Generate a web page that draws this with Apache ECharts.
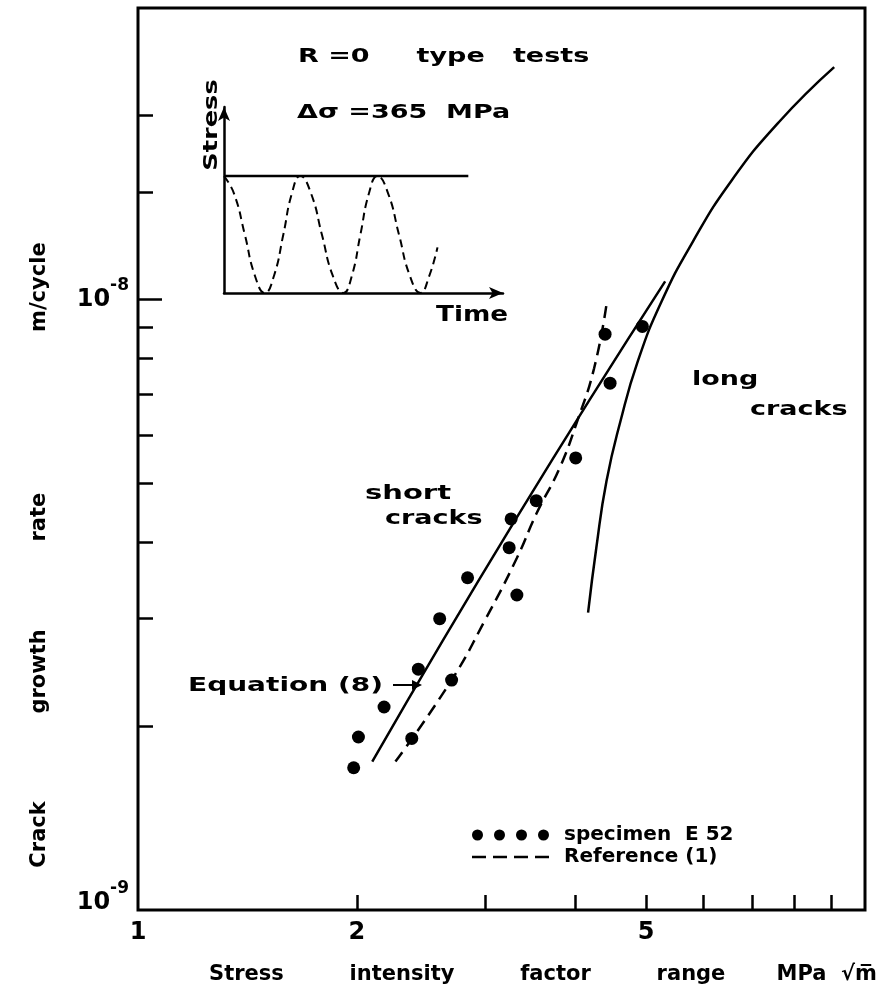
<!DOCTYPE html>
<html>
<head>
<meta charset="utf-8">
<title>Crack growth rate vs stress intensity factor range</title>
<script src="https://cdn.jsdelivr.net/npm/echarts@6.0.0/dist/echarts.min.js"></script>
<style>
    html, body { margin: 0; padding: 0; background: #fff; }
    #main { width: 880px; height: 998px; }
</style>
</head>
<body>
<div id="main"></div>
<script>
var FONT = '"DejaVu Sans", "Liberation Sans", sans-serif';

// specimen E 52 : delta K (MPa sqrt m) and da/dN (m/cycle)
var specK    = [4.39, 4.94, 4.46, 4.00, 3.53, 3.26, 3.24, 2.84, 3.32, 2.60, 2.43, 2.70, 2.18, 2.01, 2.38, 1.98];
var specRate = [8.77e-9, 9.03e-9, 7.29e-9, 5.50e-9, 4.68e-9, 4.37e-9, 3.92e-9, 3.50e-9,
                3.28e-9, 3.00e-9, 2.48e-9, 2.38e-9, 2.15e-9, 1.92e-9, 1.91e-9, 1.71e-9];
// Equation (8)
var eqK    = [2.10, 3.31, 5.31];
var eqRate = [1.75e-9, 4.37e-9, 1.07e-8];
// Reference (1), dashed
var refK    = [2.26, 2.70, 3.00, 3.32, 3.53, 3.80, 4.02, 4.24, 4.41];
var refRate = [1.75e-9, 2.38e-9, 2.98e-9, 3.77e-9, 4.45e-9, 5.29e-9, 6.32e-9, 7.71e-9, 9.81e-9];
// long cracks
var longK    = [4.16, 4.27, 4.41, 4.61, 4.87, 5.25, 5.79, 6.54, 7.61, 9.07];
var longRate = [3.07e-9, 3.92e-9, 5.04e-9, 6.32e-9, 7.92e-9, 9.92e-9, 1.24e-8, 1.56e-8, 1.95e-8, 2.40e-8];

// axis ticks and labels
var xTickVals  = [2, 3, 4, 5, 6, 7, 8, 9];
var xLabelVals = [1, 2, 5];
var yDecades   = [1e-9, 1e-8];
var yTickVals  = [2e-9, 3e-9, 4e-9, 5e-9, 6e-9, 7e-9, 8e-9, 9e-9, 1.5e-8, 2e-8];

// inset : R=0 loading, time in cycles, stress relative to max
var maxT  = [0, 3.17];
var maxS  = [1, 1];
var waveT = [0, 0.13, 0.27, 0.40, 0.53, 0.65, 0.77, 0.88, 0.99, 1.13, 1.27, 1.41, 1.55,
             1.66, 1.77, 1.88, 1.99, 2.13, 2.27, 2.41, 2.55, 2.66, 2.77];
var waveS = [1, 0.85, 0.5, 0.15, 0, 0.15, 0.5, 0.85, 1, 0.85, 0.5, 0.15, 0,
             0.15, 0.5, 0.85, 1, 0.85, 0.5, 0.15, 0, 0.14, 0.39];

function pairs(xs, ys) {
    return xs.map(function (x, i) { return [x, ys[i]]; });
}

function txt(text, x, y, opt) {
    opt = opt || {};
    return {
        type: 'text',
        x: x,
        y: y,
        scaleX: opt.scaleX || 1.35,
        rotation: opt.rotation || 0,
        style: {
            text: text,
            fill: '#000',
            fontFamily: FONT,
            fontWeight: 'bold',
            fontSize: opt.size || 20,
            align: opt.align || 'left',
            verticalAlign: 'middle'
        }
    };
}

// legend icons: four dots and four dashes
var dotsIcon = 'path://M0,6a5.5,5.5 0 1,0 11,0a5.5,5.5 0 1,0 -11,0Z' +
               'M22,6a5.5,5.5 0 1,0 11,0a5.5,5.5 0 1,0 -11,0Z' +
               'M44,6a5.5,5.5 0 1,0 11,0a5.5,5.5 0 1,0 -11,0Z' +
               'M66,6a5.5,5.5 0 1,0 11,0a5.5,5.5 0 1,0 -11,0Z';
var dashIcon = 'path://M0,0h14v2.5h-14zM21,0h14v2.5h-14zM42,0h14v2.5h-14zM63,0h14v2.5h-14z';

var chart = echarts.init(document.getElementById('main'));

var option = {
    animation: false,
    backgroundColor: '#fff',
    grid: [
        {left: 138, top: 8, width: 727, height: 902, show: true, borderColor: '#000', borderWidth: 3},
        {left: 224, top: 107, width: 279, height: 186}
    ],
    legend: {
        left: 467,
        top: 820,
        orient: 'vertical',
        itemGap: 2,
        itemWidth: 77,
        itemHeight: 11,
        selectedMode: false,
        data: [
            {name: 'specimen  E 52', icon: dotsIcon},
            {name: 'Reference (1)', icon: dashIcon}
        ],
        textStyle: {color: '#000', fontFamily: FONT, fontWeight: 'bold', fontSize: 20, padding: [0, 0, 0, 10]}
    },
    xAxis: [
        {
            type: 'log',
            logBase: 10,
            min: 1,
            max: 10,
            gridIndex: 0,
            axisLine: {show: false},
            splitLine: {show: false},
            axisTick: {show: true, inside: true, length: 15, customValues: xTickVals,
                lineStyle: {color: '#000', width: 2.5}},
            axisLabel: {customValues: xLabelVals, margin: 11, fontSize: 24,
                color: '#000', fontFamily: FONT, fontWeight: 'bold',
                formatter: function (v) { return String(Math.round(v)); }},
            name: 'Stress         intensity         factor         range       MPa  \u221Am\u0305',
            nameLocation: 'middle',
            nameGap: 54,
            nameTextStyle: {fontSize: 21, color: '#000', fontFamily: FONT, fontWeight: 'bold', padding: [0, 0, 0, 83]}
        },
        {
            type: 'value',
            gridIndex: 1,
            min: 0,
            max: 3.62,
            axisLine: {show: true, symbol: ['none', 'arrow'], symbolSize: [9, 14], lineStyle: {color: '#000', width: 2.5}},
            axisTick: {show: false},
            axisLabel: {show: false},
            splitLine: {show: false}
        }
    ],
    yAxis: [
        {
            type: 'log',
            logBase: 10,
            min: 1e-9,
            max: 3e-8,
            gridIndex: 0,
            position: 'left',
            axisLine: {show: false},
            splitLine: {show: false},
            axisTick: {show: true, inside: true, length: 24, customValues: [1e-8],
                lineStyle: {color: '#000', width: 2.5}},
            axisLabel: {
                customValues: yDecades,
                margin: 9,
                formatter: function (v) {
                    var e = Math.round(Math.log10(v));
                    return e <= -9 ? '{bl|10}{sl|' + e + '}' : '{b|10}{s|' + e + '}';
                },
                rich: {
                    b:  {fontSize: 24, color: '#000', fontFamily: FONT, fontWeight: 'bold', verticalAlign: 'middle'},
                    s:  {fontSize: 17, color: '#000', fontFamily: FONT, fontWeight: 'bold', verticalAlign: 'middle', padding: [0, 0, 28, 0]},
                    bl: {fontSize: 24, color: '#000', fontFamily: FONT, fontWeight: 'bold', verticalAlign: 'middle', padding: [0, 0, 14, 0]},
                    sl: {fontSize: 17, color: '#000', fontFamily: FONT, fontWeight: 'bold', verticalAlign: 'middle', padding: [0, 0, 42, 0]}
                }
            },
            name: 'Crack            growth            rate                      m/cycle',
            nameLocation: 'middle',
            nameGap: 88,
            nameTextStyle: {fontSize: 21, color: '#000', fontFamily: FONT, fontWeight: 'bold', padding: [0, 192, 0, 0]}
        },
        {
            // minor ticks of the main y axis
            type: 'log',
            logBase: 10,
            min: 1e-9,
            max: 3e-8,
            gridIndex: 0,
            position: 'left',
            axisLine: {show: false},
            splitLine: {show: false},
            axisTick: {show: true, inside: true, length: 15, customValues: yTickVals,
                lineStyle: {color: '#000', width: 2.5}},
            axisLabel: {show: false}
        },
        {
            type: 'value',
            gridIndex: 1,
            min: 0,
            max: 1.59,
            axisLine: {show: true, symbol: ['none', 'arrow'], symbolSize: [9, 14], lineStyle: {color: '#000', width: 2.5}},
            axisTick: {show: false},
            axisLabel: {show: false},
            splitLine: {show: false}
        }
    ],
    series: [
        {
            name: 'specimen  E 52',
            type: 'scatter',
            xAxisIndex: 0,
            yAxisIndex: 0,
            data: pairs(specK, specRate),
            symbol: 'circle',
            symbolSize: 13,
            itemStyle: {color: '#000', opacity: 1},
            z: 5
        },
        {
            name: 'Equation (8)',
            type: 'line',
            xAxisIndex: 0,
            yAxisIndex: 0,
            data: pairs(eqK, eqRate),
            symbol: 'none',
            smooth: true,
            lineStyle: {color: '#000', width: 2.5}
        },
        {
            name: 'Reference (1)',
            type: 'line',
            xAxisIndex: 0,
            yAxisIndex: 0,
            data: pairs(refK, refRate),
            symbol: 'none',
            smooth: true,
            itemStyle: {color: '#000'},
            lineStyle: {color: '#000', width: 2.5, type: [12, 7]}
        },
        {
            name: 'long cracks',
            type: 'line',
            xAxisIndex: 0,
            yAxisIndex: 0,
            data: pairs(longK, longRate),
            symbol: 'none',
            smooth: true,
            lineStyle: {color: '#000', width: 2.5}
        },
        {
            name: 'max stress',
            type: 'line',
            xAxisIndex: 1,
            yAxisIndex: 2,
            data: pairs(maxT, maxS),
            symbol: 'none',
            lineStyle: {color: '#000', width: 2.5}
        },
        {
            name: 'stress cycle',
            type: 'line',
            xAxisIndex: 1,
            yAxisIndex: 2,
            data: pairs(waveT, waveS),
            symbol: 'none',
            smooth: true,
            lineStyle: {color: '#000', width: 2, type: [8, 5]}
        }
    ],
    graphic: [
        txt('R =0     type   tests', 298, 57),
        txt('\u0394\u03C3 =365  MPa', 297, 113),
        txt('Stress', 212, 125, {rotation: Math.PI / 2, align: 'center', size: 19}),
        txt('Time', 436, 316, {size: 21, scaleX: 1.25}),
        txt('long', 692, 380),
        txt('cracks', 750, 410),
        txt('short', 365, 494, {scaleX: 1.45}),
        txt('cracks', 385, 519),
        txt('Equation (8)', 188, 686, {scaleX: 1.4}),
        {
            type: 'line',
            shape: {x1: 393, y1: 685, x2: 414, y2: 685},
            style: {stroke: '#000', lineWidth: 2}
        },
        {
            type: 'polygon',
            shape: {points: [[422, 685], [412, 680], [412, 690]]},
            style: {fill: '#000'}
        }
    ]
};

chart.setOption(option);
</script>
</body>
</html>
